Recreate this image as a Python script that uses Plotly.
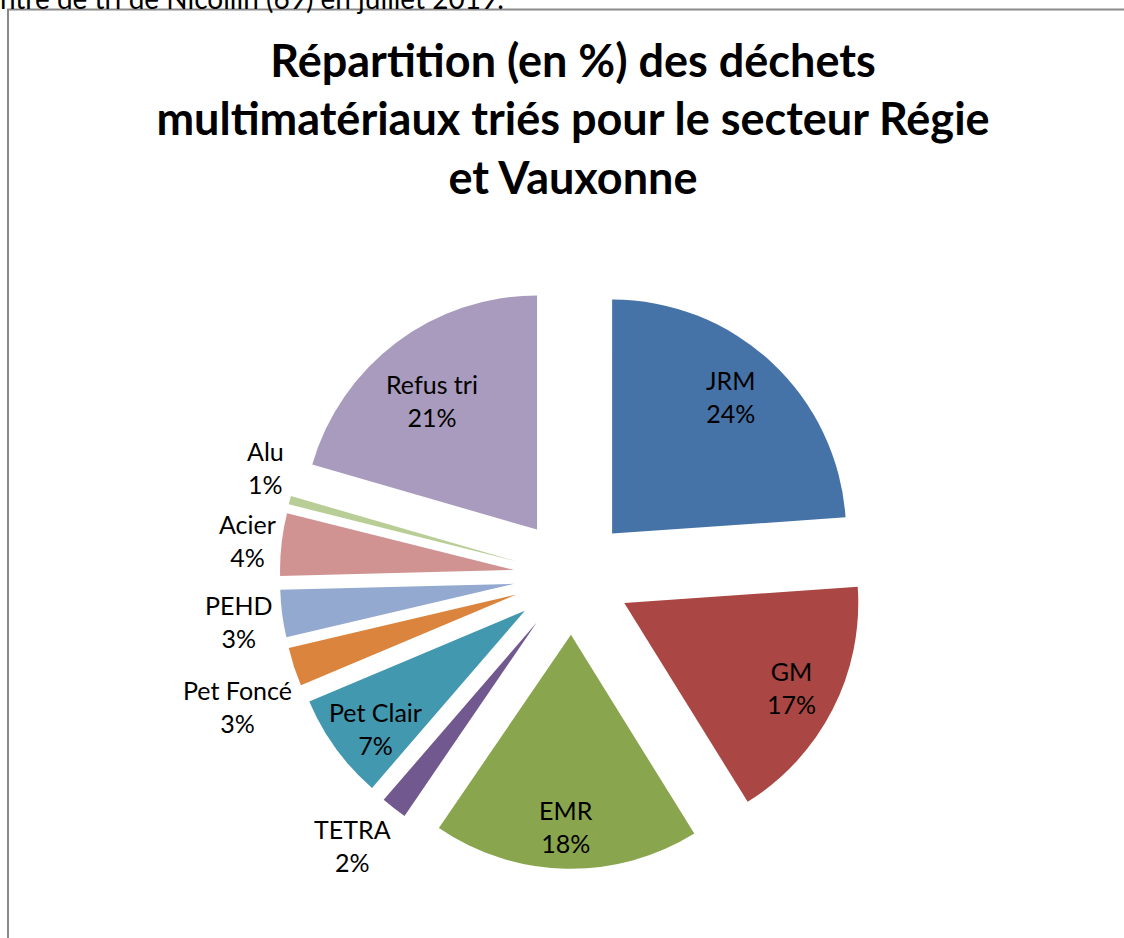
import math
import plotly.graph_objects as go

# ---- data ----
categories = ["JRM", "GM", "EMR", "TETRA", "Pet Clair", "Pet Foncé", "PEHD", "Acier", "Alu", "Refus tri"]
values = [23.90, 17.26, 18.38, 1.79, 7.32, 2.68, 3.26, 4.31, 0.58, 20.52]
colors = ["#4572A7", "#AA4643", "#89A54E", "#71588F", "#4198AF",
          "#DB843D", "#93A9CF", "#D19392", "#B9CD96", "#A99BBD"]
title_text = "Répartition (en %) des déchets<br>multimatériaux triés pour le secteur Régie<br>et Vauxonne"
top_text = "centre de tri de Nicollin (69) en juillet 2019."

# ---- label placement (relative to each pulled slice: radius fraction, angle nudge in deg) ----
label_rf = [0.774, 0.80, 0.82, 1.234, 0.815, 1.286, 1.187, 1.148, 1.143, 0.713]
label_dth = [-2.0, -0.1, 0.2, 1.9, -2.2, -3.8, -0.4, 0.0, 5.3, -2.2]

# ---- geometry ----
W, H = 1124, 938
CX, CY = 572.2, 576.3   # pie centre in px
R = 234.0               # pie radius in px
PULL = 0.25
half = R * (1 + PULL)

fig = go.Figure()
fig.add_trace(go.Pie(
    labels=categories,
    values=values,
    sort=False,
    direction="clockwise",
    rotation=0,
    pull=[PULL] * len(values),
    marker=dict(colors=colors, line=dict(width=0)),
    textinfo="none",
    hoverinfo="label+percent",
    showlegend=False,
    domain=dict(x=[(CX - half) / W, (CX + half) / W],
                y=[1 - (CY + half) / H, 1 - (CY - half) / H]),
))

total = sum(values)
start = 0.0
annotations = []
for i, (cat, v) in enumerate(zip(categories, values)):
    span = v / total * 360.0
    mid = start + span / 2
    start += span
    m = math.radians(mid)
    px = CX + PULL * R * math.sin(m)
    py = CY - PULL * R * math.cos(m)
    la = math.radians(mid + label_dth[i])
    lx = px + label_rf[i] * R * math.sin(la)
    ly = py - label_rf[i] * R * math.cos(la)
    pct = round(v / total * 100)
    annotations.append(dict(
        x=lx / W, y=1 - ly / H, xref="paper", yref="paper",
        text=f"{cat}<br>{pct}%", showarrow=False,
        xanchor="center", yanchor="middle", align="center",
        font=dict(family="Lato", size=25, color="black"),
    ))

annotations.append(dict(
    x=506 / W, y=1 + 2 / H, xref="paper", yref="paper",
    text=top_text, showarrow=False, xanchor="right", yanchor="middle",
    font=dict(family="Lato", size=28, color="black"),
))

fig.update_layout(
    width=W, height=H,
    margin=dict(l=0, r=0, t=0, b=0),
    paper_bgcolor="white",
    plot_bgcolor="white",
    title=dict(text=title_text, x=573 / W, xanchor="center",
               y=1 - 76.5 / H, yanchor="middle", yref="container",
               font=dict(family="Lato", size=45, color="black", weight="bold")),
    annotations=annotations,
    shapes=[dict(type="rect", xref="paper", yref="paper",
                 x0=8 / W, x1=1.05, y0=-0.05, y1=1 - 9.5 / H,
                 line=dict(color="#8a8a8a", width=2), fillcolor="rgba(0,0,0,0)")],
)

fig.write_html("out.html", config={"displayModeBar": False},
               post_script="document.body.style.margin='0';")
